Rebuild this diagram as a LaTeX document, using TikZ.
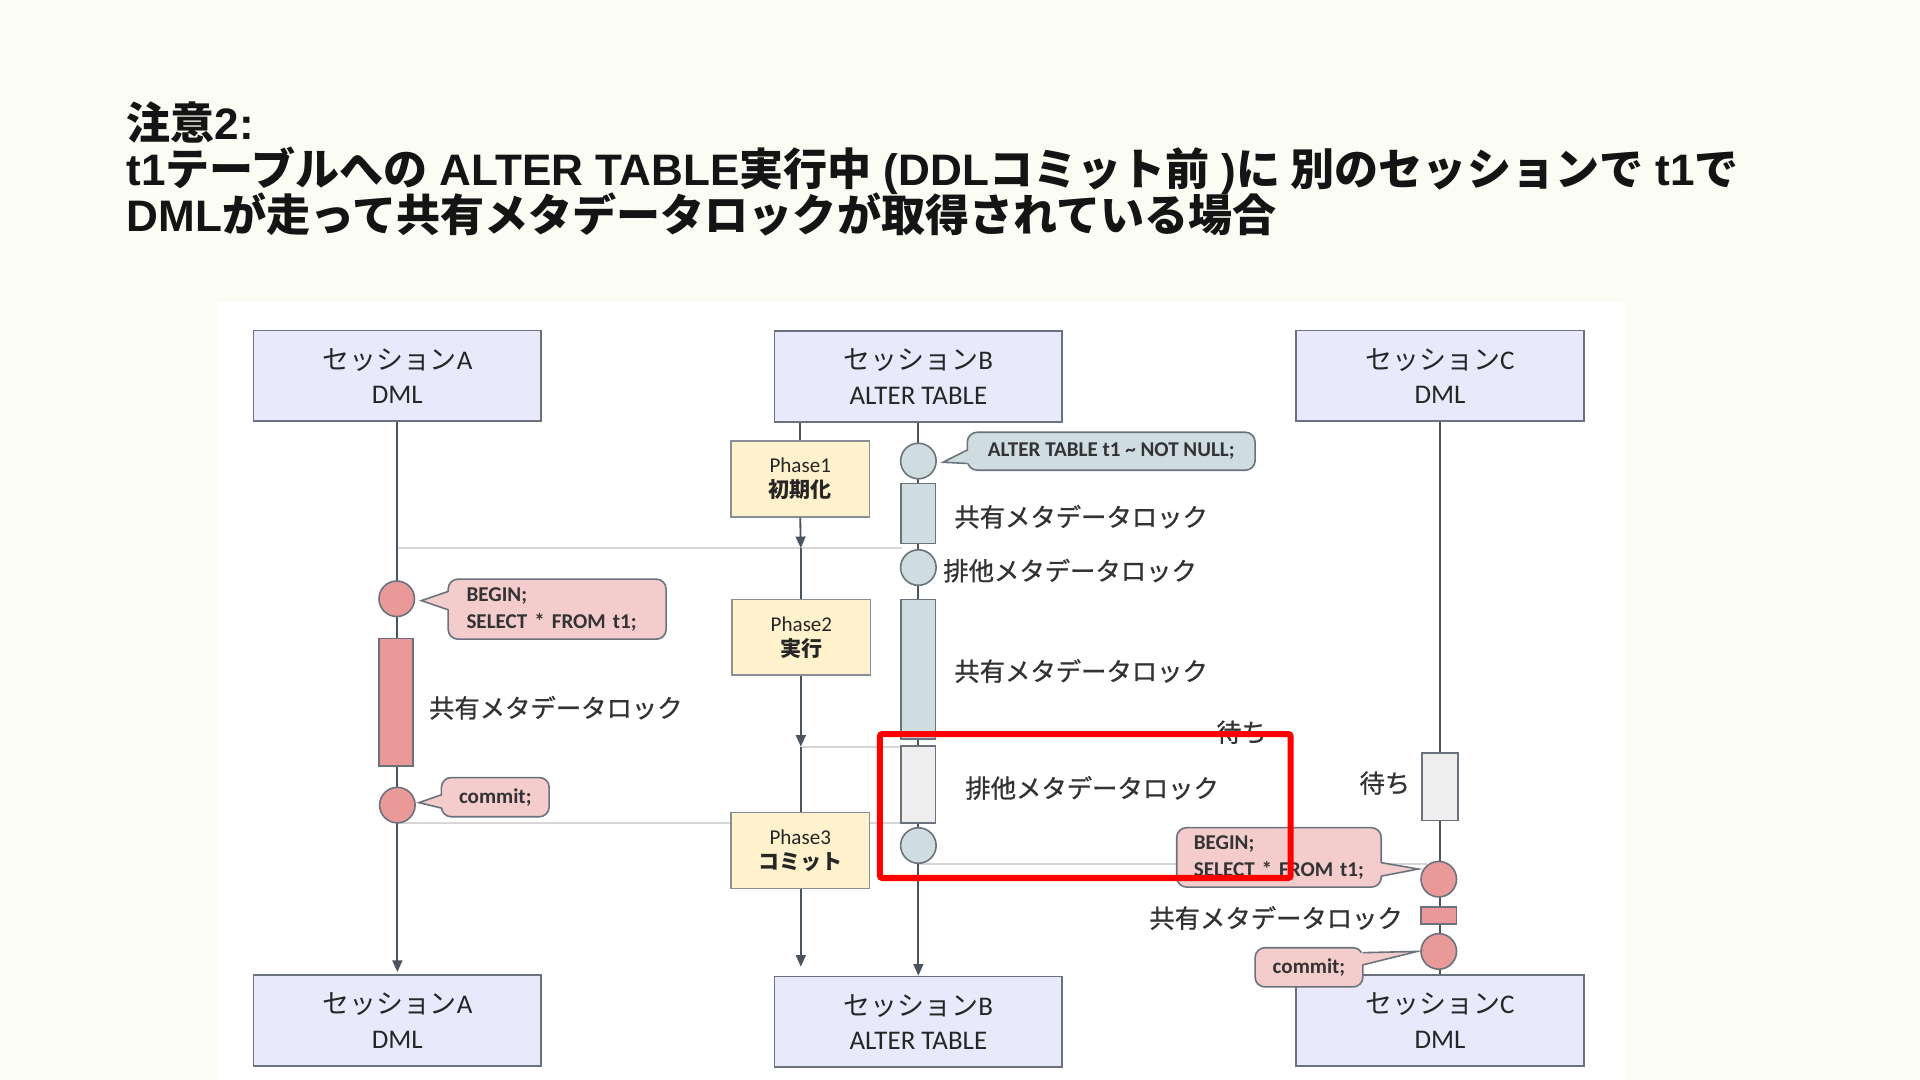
\documentclass[tikz,border=0pt]{standalone}
\usepackage{fontspec}
\setmainfont{Noto Sans CJK JP}
\newfontfamily\jpm{Noto Sans CJK JP}[FakeBold=0.9]
\newfontfamily\calf{Carlito}
\newfontfamily\arl{Liberation Sans}
\usetikzlibrary{arrows.meta,calc}
\definecolor{bgc}{HTML}{FBFCF3}
\definecolor{sessfill}{HTML}{E8EAFB}
\definecolor{boxline}{HTML}{6A737D}
\definecolor{phfill}{HTML}{FFF2CC}
\definecolor{bluef}{HTML}{CFDDE1}
\definecolor{pinkc}{HTML}{EA9999}
\definecolor{pinkf}{HTML}{F4CCCC}
\definecolor{waitf}{HTML}{EEEEEE}
\definecolor{lifec}{HTML}{4A545E}
\definecolor{hlc}{HTML}{D6D6D6}
\definecolor{txtc}{HTML}{333333}
\begin{document}
\begin{tikzpicture}[x=0.5pt,y=-0.5pt,
  sess/.style={draw=boxline,fill=sessfill,line width=0.7pt,minimum width=117.5pt,minimum height=37pt,inner sep=0pt,align=center,font=\fontsize{11}{14}\selectfont,text=black!85},
  phase/.style={draw=boxline!80,fill=phfill,line width=0.7pt,minimum width=56.5pt,minimum height=31pt,inner sep=0pt,align=center,font=\fontsize{8.6}{10.25}\selectfont,text=black!85},
  bcirc/.style={circle,draw=boxline,fill=bluef,line width=0.65pt,minimum size=14.5pt,inner sep=0pt},
  pcirc/.style={circle,draw=boxline,fill=pinkc,line width=0.65pt,minimum size=14.5pt,inner sep=0pt},
  bar/.style={draw=boxline,line width=0.65pt,minimum width=14pt,inner sep=0pt},
  life/.style={draw=lifec,line width=0.75pt},
  lifearr/.style={draw=lifec,line width=0.75pt,-{Triangle[length=4.7pt,width=4pt]}},
  hline/.style={draw=hlc,line width=0.75pt},
  lbl/.style={inner sep=0pt,font=\jpm\fontsize{10.35}{12}\selectfont,text=txtc},
  code/.style={draw=boxline,line width=0.65pt,rounded corners=4pt,inner sep=0pt,font=\calf\bfseries\fontsize{8.6}{11.15}\selectfont,text=txtc},
  ttl/.style={inner sep=0pt,font=\bfseries\fontsize{18}{18}\selectfont,text=black!92}
]
\useasboundingbox (0,0) rectangle (1568,882);
\fill[bgc] (0,0) rectangle (1568,882);
\fill[white] (178,247) rectangle (1327,882);

% title
\node[ttl,anchor=base west] (t1) at (103,113.7) {注意{\arl 2:}};
\node[ttl,anchor=base west] (t2) at (103,151.5) {{\arl t1}テーブルへの{\arl\ ALTER TABLE}実行中{\arl\ (DDL}コミット前{\arl\ )}に 別のセッションで{\arl\ t1}で};
\node[ttl,anchor=base west] (t3) at (103,188.7) {{\arl DML}が走って共有メタデータロックが取得されている場合};

% session boxes
\node[sess] (sA) at (324.5,307) {セッション{\calf A}\\{\calf DML}};
\node[sess] (sB) at (750,307.5) {セッション{\calf B}\\{\calf ALTER TABLE}};
\node[sess] (sC) at (1176,307) {セッション{\calf C}\\{\calf DML}};
\node[sess] (eA) at (324.5,833.5) {セッション{\calf A}\\{\calf DML}};
\node[sess] (eB) at (750,834.5) {セッション{\calf B}\\{\calf ALTER TABLE}};
\node[sess] (eC) at (1176,833.5) {セッション{\calf C}\\{\calf DML}};

% helper coordinates
\coordinate (h1) at (654,447.6);
\coordinate (h2) at (654,609.8);
\coordinate (h3) at (654,789.5);

% horizontal guide lines
\draw[hline] (325,447.6) -- (737,447.6);
\draw[hline] (h2) -- (750,609.8);
\draw[hline] (325,672) -- (750,672);
\draw[hline] (750,705.5) -- (1165,705.5);

% phase boxes
\node[phase] (p1) at (653.5,391) {{\calf Phase1}\\{\bfseries 初期化}};
\node[phase] (p2) at (654.5,520.5) {{\calf Phase2}\\{\bfseries 実行}};
\node[phase] (p3) at (653.5,694.5) {{\calf Phase3}\\{\bfseries コミット}};

% lifelines
\draw[lifearr,shorten >=1pt] (sA.south) -- (eA.north);
\draw[lifearr] (sB.south) -- (eB.north);
\draw[life] (sC.south) -- (eC.north);
\draw[life] (p1.north |- sB.south) -- (p1.north);
\draw[lifearr] (p1.south) -- (h1);
\draw[life] (h1) -- (p2.north -| h1);
\draw[lifearr] (p2.south -| h2) -- (h2);
\draw[life] (h2) -- (p3.north -| h2);
\draw[lifearr] (p3.south -| h3) -- (h3);

% session B elements
\node[bcirc] (ob1) at (750,376.5) {};
\node[bar,fill=bluef,minimum height=24.5pt] (rb1) at (750,419.5) {};
\node[bcirc] (ob2) at (750,463.5) {};
\node[bar,fill=bluef,minimum height=57pt] (rb2) at (750,546.5) {};
\node[bar,fill=waitf,minimum height=31.5pt] (rb3) at (750,640.5) {};
\node[bcirc] (ob3) at (750,690.5) {};

% session A elements
\node[pcirc] (oa1) at (324,489) {};
\node[bar,fill=pinkc,minimum height=52pt] (ra1) at (323.5,573.5) {};
\node[pcirc] (oa2) at (324.5,657.5) {};

% session C elements
\node[bar,fill=waitf,minimum height=27.5pt,minimum width=14.5pt] (rc1) at (1176,642.5) {};
\node[pcirc] (oc1) at (1175,718) {};
\node[bar,fill=pinkc,minimum height=7pt,minimum width=14.5pt] (rc2) at (1175,747.7) {};
\node[pcirc] (oc2) at (1175,777) {};

% callouts
\node[code,fill=bluef,minimum width=117.5pt,minimum height=15.5pt] (cb) at (907.5,368.5) {ALTER TABLE t1 \char`~\ NOT NULL;};
\fill[bluef] (792,367.5) -- ($(ob1.east)+(5,1)$) -- (792,378.5) -- cycle;
\draw[boxline,line width=0.65pt] (790,367.5) -- ($(ob1.east)+(5,1)$) -- (790,378.5);

\node[code,fill=pinkf,minimum width=89pt,minimum height=24.5pt,text width=74pt,inner xsep=7.5pt,align=left] (ca1) at (455,497.5) {BEGIN;\\SELECT * FROM t1;};
\fill[pinkf] (368,483) -- ($(oa1.east)+(5,1.5)$) -- (368,498) -- cycle;
\draw[boxline,line width=0.65pt] (366,483) -- ($(oa1.east)+(5,1.5)$) -- (366,498);

\node[code,fill=pinkf,minimum width=44pt,minimum height=16pt] (ca2) at (404.5,651) {commit;};
\fill[pinkf] (362.7,649) -- ($(oa2.east)+(2.5,-2)$) -- (362.7,660) -- cycle;
\draw[boxline,line width=0.65pt] (360.7,649) -- ($(oa2.east)+(2.5,-2)$) -- (360.7,660);

\node[code,fill=pinkf,minimum width=83.5pt,minimum height=24.25pt,text width=69.5pt,inner xsep=7pt,align=left] (cc1) at (1044.5,700.2) {BEGIN;\\SELECT * FROM t1;};
\fill[pinkf] (1126,704.5) -- ($(oc1.west)+(-1.5,-8.3)$) -- (1126,715.5) -- cycle;
\draw[boxline,line width=0.65pt] (1128,704.5) -- ($(oc1.west)+(-1.5,-8.3)$) -- (1128,715.5);

\node[code,fill=pinkf,minimum width=44pt,minimum height=16pt] (cc2) at (1069,790) {commit;};
\fill[pinkf] (1111,778) -- ($(oc2.west)+(-2.5,0)$) -- (1111,788) -- cycle;
\draw[boxline,line width=0.65pt] (1113,778) -- ($(oc2.west)+(-2.5,0)$) -- (1113,788);

% labels
\node[lbl,anchor=west] (lb1) at (779,422) {共有メタデータロック};
\node[lbl,anchor=west] (lb2) at (770,466) {排他メタデータロック};
\node[lbl,anchor=west] (lb3) at (779,548) {共有メタデータロック};
\node[lbl] (lw1) at (1014,598) {待ち};
\node[lbl,anchor=west] (lb4) at (788,643.5) {排他メタデータロック};
\node[lbl,anchor=west] (la1) at (350,578) {共有メタデータロック};
\node[lbl] (lw2) at (1131,639.5) {待ち};
\node[lbl,anchor=east] (lc1) at (1146,749.7) {共有メタデータロック};

% highlight
\draw[red,line width=2.5pt,rounded corners=1pt] (718.6,599.5) rectangle (1054,717);
\end{tikzpicture}
\end{document}
